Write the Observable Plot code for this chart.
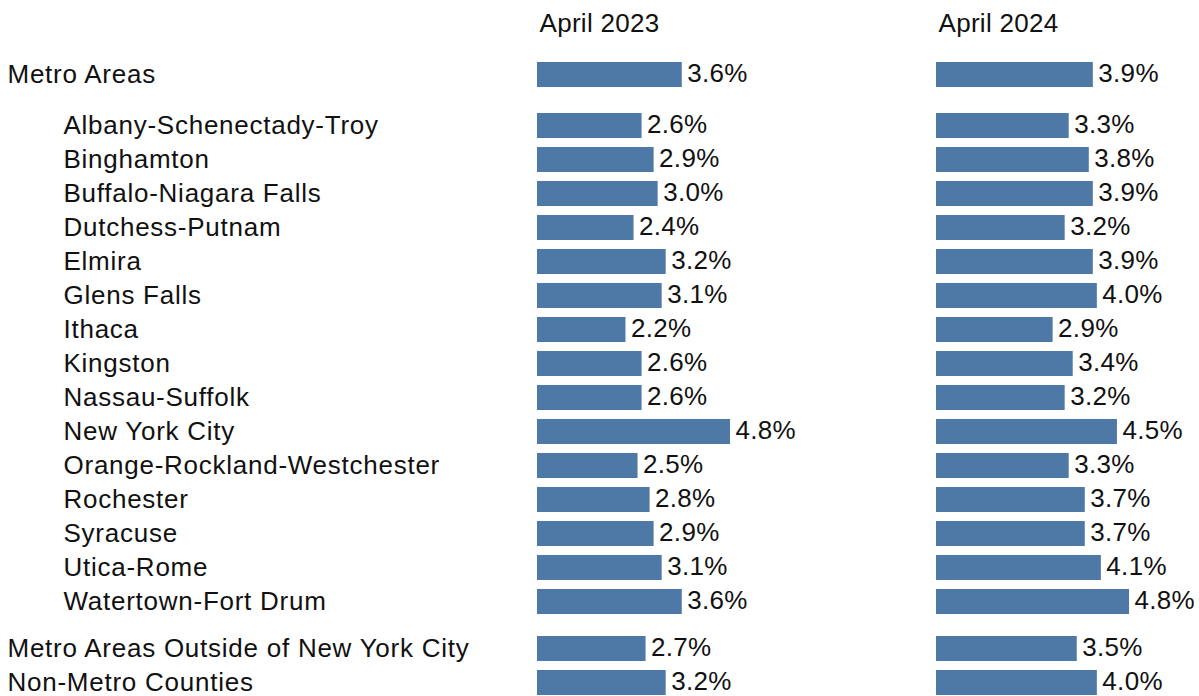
<!DOCTYPE html>
<html>
<head>
<meta charset="utf-8">
<script src="https://cdn.jsdelivr.net/npm/d3@7"></script>
<script src="https://cdn.jsdelivr.net/npm/@observablehq/plot@0.6"></script>
<style>
  html, body { margin: 0; padding: 0; background: #fff; }
  #chart svg { display: block; letter-spacing: 0.3px; }
  #chart svg g[aria-label="y-axis tick label"] { letter-spacing: 0.75px; }
</style>
</head>
<body>
<div id="chart"></div>
<script>
// ---- data ----
const years = ["April 2023", "April 2024"];

const totalAreas = ["Metro Areas"];
const total2023 = [3.6];
const total2024 = [3.9];

const metroAreas = [
  "Albany-Schenectady-Troy", "Binghamton", "Buffalo-Niagara Falls", "Dutchess-Putnam",
  "Elmira", "Glens Falls", "Ithaca", "Kingston", "Nassau-Suffolk", "New York City",
  "Orange-Rockland-Westchester", "Rochester", "Syracuse", "Utica-Rome", "Watertown-Fort Drum"
];
const metro2023 = [2.6, 2.9, 3.0, 2.4, 3.2, 3.1, 2.2, 2.6, 2.6, 4.8, 2.5, 2.8, 2.9, 3.1, 3.6];
const metro2024 = [3.3, 3.8, 3.9, 3.2, 3.9, 4.0, 2.9, 3.4, 3.2, 4.5, 3.3, 3.7, 3.7, 4.1, 4.8];

const otherAreas = ["Metro Areas Outside of New York City", "Non-Metro Counties"];
const other2023 = [2.7, 3.2];
const other2024 = [3.5, 4.0];

// ---- build tables ----
function rows(areas, v23, v24) {
  return areas.flatMap((a, i) => [
    {area: a, year: years[0], value: v23[i]},
    {area: a, year: years[1], value: v24[i]}
  ]);
}

const FONT = "'Liberation Sans', Arial, sans-serif";
const FS = 26;
const W = 1199;
const ML = 537;
const STEP = 34.1;
const BAR = "#4e79a7";
const INK = "#111";

function panel({areas, v23, v24, marginTop, marginBottom = 0, labelX, header = false}) {
  const data = rows(areas, v23, v24);
  const marks = [
    Plot.barX(data, {x: "value", y: "area", fx: "year", fill: BAR}),
    Plot.text(data, {
      x: "value", y: "area", fx: "year",
      text: d => d.value.toFixed(1) + "%",
      textAnchor: "start", dx: 5, dy: -1.5, fill: INK, fontSize: FS
    }),
    Plot.axisY({
      anchor: "left", tickSize: 0, tickPadding: 0, textAnchor: "start",
      dx: labelX - ML, label: null, fontSize: FS, fill: INK
    })
  ];
  if (header) {
    marks.push(Plot.text(years, {
      fx: d => d, text: d => d, frameAnchor: "top-left",
      lineAnchor: "middle", dx: 2, dy: -34.5, fontSize: FS, fill: INK
    }));
  }
  return Plot.plot({
    width: W,
    height: marginTop + areas.length * STEP + marginBottom,
    marginLeft: ML,
    marginRight: 0,
    marginTop,
    marginBottom,
    style: {fontFamily: FONT, fontSize: FS + "px", color: INK, overflow: "visible", background: "#fff"},
    fx: {domain: years, paddingInner: 0.341, paddingOuter: 0, axis: null},
    x: {domain: [0, 6.54], axis: null},
    y: {domain: areas, paddingInner: 0.276, paddingOuter: 0.138},
    marks
  });
}

const chart = document.getElementById("chart");
chart.appendChild(panel({areas: totalAreas, v23: total2023, v24: total2024, marginTop: 57.65, labelX: 7, header: true}));
chart.appendChild(panel({areas: metroAreas, v23: metro2023, v24: metro2024, marginTop: 15.2, labelX: 63}));
chart.appendChild(panel({areas: otherAreas, v23: other2023, v24: other2024, marginTop: 13.3, marginBottom: 12, labelX: 7}));
</script>
</body>
</html>
